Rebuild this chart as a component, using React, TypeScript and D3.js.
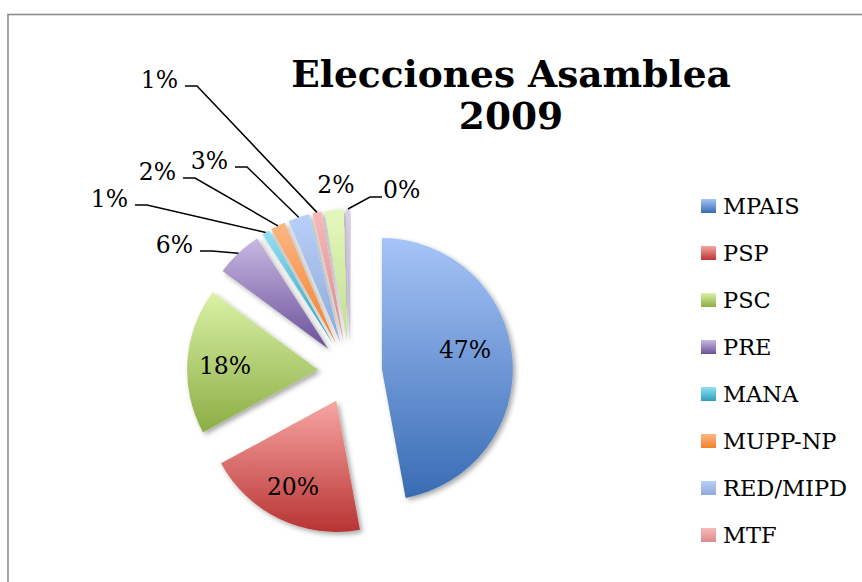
import React from 'react';
import * as d3 from 'd3';

// ---- data ----
const parties = ['MPAIS', 'PSP', 'PSC', 'PRE', 'MANA', 'MUPP-NP', 'RED/MIPD', 'MTF', 'PRIAN', 'ID'];
const shares = [47.1, 20.0, 18.0, 5.8, 0.9, 1.8, 2.6, 1.1, 2.3, 0.4];
const colorLight = ['#a6c4f7', '#f7a6a3', '#daf2a6', '#c8b8e3', '#92e0f6', '#fcb683', '#b8d0f9', '#f9b8b9', '#e4f8bd', '#dacdf2'];
const colorDark = ['#386bb4', '#b83433', '#8cad44', '#6b5098', '#2f9fbd', '#f2802c', '#8ea9d8', '#d98b8c', '#c2dd8e', '#b39fd6'];
const titleLines = ['Elecciones Asamblea', '2009'];

// ---- layout (label placement relative to pie centre) ----
// kind: 'in' = centred text; 'left' = text left of leader start; 'right' = text right of leader start
const labelPlacement: { kind: string; dx: number; dy: number }[] = [
  { kind: 'in', dx: 115, dy: -14 },
  { kind: 'in', dx: -57, dy: 123 },
  { kind: 'in', dx: -125, dy: 2 },
  { kind: 'left', dx: -150, dy: -121 },
  { kind: 'left', dx: -215, dy: -167 },
  { kind: 'left', dx: -167, dy: -194 },
  { kind: 'left', dx: -115, dy: -205 },
  { kind: 'left', dx: -165, dy: -286 },
  { kind: 'in', dx: -14, dy: -179 },
  { kind: 'right', dx: 32, dy: -175 },
];

const W = 862;
const H = 582;
const FONT = "'DejaVu Serif', serif";

export default function App() {
  const cx = 350;
  const cy = 372;
  const r = 131;
  const explode = 32;

  const pie = d3.pie<number>().sort(null).value((d) => d);
  const arcs = pie(shares);
  const arcGen = d3.arc<d3.PieArcDatum<number>>().innerRadius(0).outerRadius(r);
  const fmt = (v: number) => `${Math.round(v)}%`;

  const legendX = 701;
  const legendY0 = 206;
  const legendStep = 47;
  const legendItems = parties
    .map((p, i) => ({ p, i, y: legendY0 + i * legendStep }))
    .filter((d) => d.y + 10 < H);

  return (
    <svg width={W} height={H} style={{ position: 'absolute', left: 0, top: 0, background: '#fff' }}>
      <defs>
        {parties.map((p, i) => (
          <linearGradient key={i} id={`g${i}`} x1="0" y1="0" x2="0" y2="1">
            <stop offset="0%" stopColor={colorLight[i]} />
            <stop offset="100%" stopColor={colorDark[i]} />
          </linearGradient>
        ))}
        <filter id="shadow" x="-30%" y="-30%" width="160%" height="160%">
          <feDropShadow dx="2.5" dy="2.5" stdDeviation="2.5" floodColor="#000" floodOpacity="0.35" />
        </filter>
      </defs>

      <rect x={8} y={14.5} width={900} height={620} fill="none" stroke="#8c8c8c" strokeWidth={1.6} />

      {titleLines.map((t, i) => (
        <text key={i} x={511} y={87 + i * 42} textAnchor="middle" fontFamily={FONT} fontWeight="bold" fontSize={37.5} fill="#000">
          {t}
        </text>
      ))}

      <g>
        {arcs.map((a, i) => {
          const mid = (a.startAngle + a.endAngle) / 2;
          const tx = cx + explode * Math.sin(mid);
          const ty = cy - explode * Math.cos(mid);
          return (
            <path key={i} d={arcGen(a) || ''} transform={`translate(${tx},${ty})`} fill={`url(#g${i})`} filter="url(#shadow)" />
          );
        })}
      </g>

      <g fontFamily={FONT} fontSize={23.5} fill="#000">
        {arcs.map((a, i) => {
          const pl = labelPlacement[i];
          const mid = (a.startAngle + a.endAngle) / 2;
          const ax = cx + (r + explode) * Math.sin(mid);
          const ay = cy - (r + explode) * Math.cos(mid);
          const sx = cx + pl.dx;
          const sy = cy + pl.dy;
          const label = fmt(shares[i]);
          if (pl.kind === 'in') {
            return (
              <text key={i} x={sx} y={sy} textAnchor="middle">{label}</text>
            );
          }
          if (pl.kind === 'left') {
            return (
              <g key={i}>
                <polyline points={`${sx},${sy} ${sx + 12},${sy} ${ax},${ay}`} fill="none" stroke="#000" strokeWidth={1.5} />
                <text x={sx - 7} y={sy + 2} textAnchor="end">{label}</text>
              </g>
            );
          }
          return (
            <g key={i}>
              <polyline points={`${sx},${sy} ${sx - 12},${sy} ${ax},${ay}`} fill="none" stroke="#000" strokeWidth={1.5} />
              <text x={sx + 1} y={sy + 1} textAnchor="start">{label}</text>
            </g>
          );
        })}
      </g>

      <g fontFamily={FONT} fontSize={22.5} fill="#000">
        {legendItems.map((d) => (
          <g key={d.i}>
            <rect x={legendX} y={d.y - 7} width={15} height={14} fill={`url(#g${d.i})`} />
            <text x={legendX + 22} y={d.y + 8}>{d.p}</text>
          </g>
        ))}
      </g>
    </svg>
  );
}
